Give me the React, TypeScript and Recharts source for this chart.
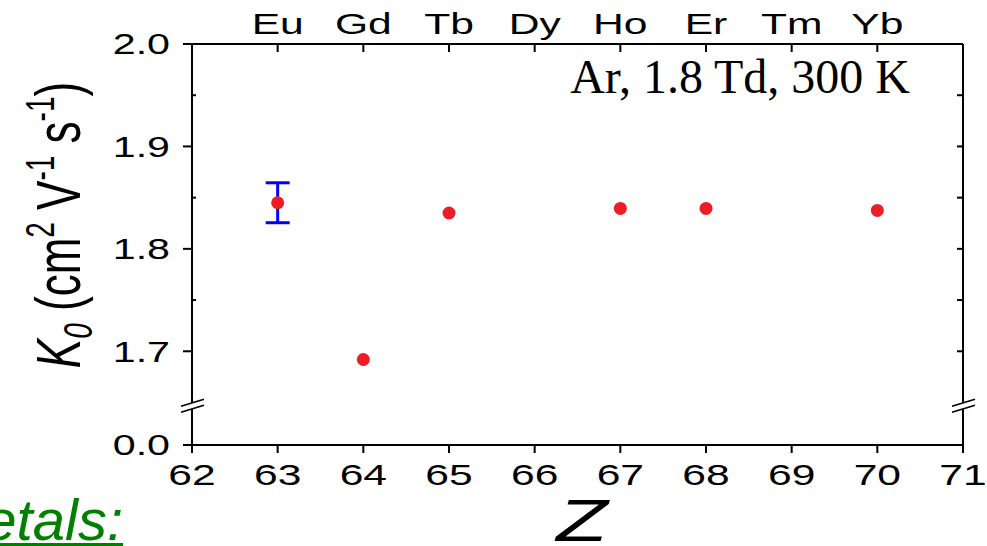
import { ScatterChart, Scatter, XAxis, YAxis, ErrorBar, ReferenceDot, Customized } from "recharts";

// Z values and measured K0 (cm2/V/s)
const euPoint = [{ z: 63, k0: 1.845, err: 0.0195 }];
const otherZ = [64, 65, 67, 68, 70];
const otherK0 = [1.692, 1.835, 1.8395, 1.8395, 1.8375];

const elementZ = [63, 64, 65, 66, 67, 68, 69, 70];
const elementNames = ["Eu", "Gd", "Tb", "Dy", "Ho", "Er", "Tm", "Yb"];
const zTicks = [62, 63, 64, 65, 66, 67, 68, 69, 70, 71];

// broken y axis: the bottom of the axis stands for 0.0
const AXIS_FLOOR = 1.6085;
const BREAK_AT = 1.6474;
const majorK0 = [1.7, 1.8, 1.9, 2.0];
const leftTicks = [AXIS_FLOOR, 1.7, 1.75, 1.8, 1.85, 1.9, 1.95, 2.0];
const rightTicks = [1.7, 1.75, 1.8, 1.85, 1.9, 1.95, 2.0];

const otherPoints = otherZ.map((z, i) => ({ z, k0: otherK0[i] }));

const FONT = "'Liberation Sans', Arial, sans-serif";
const RED = "#ee1c24";
const STRETCH = 1.42;

const isMajor = (v: number) => v === AXIS_FLOOR || majorK0.some((m) => Math.abs(m - v) < 1e-6);

function BottomTick(props: any) {
  const { x, y, payload } = props;
  return (
    <g>
      <line x1={x} y1={y} x2={x} y2={y + 8} stroke="#000" strokeWidth={2} />
      <text transform={`translate(${x},${y + 40}) scale(${STRETCH},1)`} textAnchor="middle" fontSize={30} fontFamily={FONT} fill="#000">
        {payload.value}
      </text>
    </g>
  );
}

function TopTick(props: any) {
  const { x, y, payload } = props;
  const name = elementNames[elementZ.indexOf(payload.value)];
  return (
    <g>
      <line x1={x} y1={y} x2={x} y2={y + 8} stroke="#000" strokeWidth={2} />
      <text transform={`translate(${x},${y - 10}) scale(${STRETCH},1)`} textAnchor="middle" fontSize={30} fontFamily={FONT} fill="#000">
        {name}
      </text>
    </g>
  );
}

function LeftTick(props: any) {
  const { x, y, payload } = props;
  const v = payload.value as number;
  if (!isMajor(v)) {
    return <line x1={x} y1={y} x2={x + 4} y2={y} stroke="#000" strokeWidth={2} />;
  }
  const label = v === AXIS_FLOOR ? "0.0" : v.toFixed(1);
  return (
    <g>
      <line x1={x - 9} y1={y} x2={x} y2={y} stroke="#000" strokeWidth={2} />
      <text transform={`translate(${x - 22},${y}) scale(${STRETCH},1)`} dy="0.36em" textAnchor="end" fontSize={29} fontFamily={FONT} fill="#000">
        {label}
      </text>
    </g>
  );
}

function RightTick(props: any) {
  const { x, y } = props;
  return <line x1={x - 6} y1={y} x2={x} y2={y} stroke="#000" strokeWidth={2} />;
}

function AxisBreak(props: any) {
  const { cx, cy } = props;
  return (
    <g>
      <polygon points={`${cx - 11},${cy + 1} ${cx + 12},${cy - 6} ${cx + 12},${cy} ${cx - 11},${cy + 7}`} fill="#fff" />
      <line x1={cx - 11} y1={cy + 1} x2={cx + 12} y2={cy - 6} stroke="#000" strokeWidth={1.6} />
      <line x1={cx - 11} y1={cy + 7} x2={cx + 12} y2={cy} stroke="#000" strokeWidth={1.6} />
    </g>
  );
}

function Dot(props: any) {
  const { cx, cy } = props;
  return <circle cx={cx} cy={cy} r={6.5} fill={RED} />;
}

function Annotations() {
  return (
    <g>
      <text x={910} y={93} textAnchor="end" fontSize={48} fontFamily="'Liberation Serif', 'Times New Roman', serif" fill="#000">
        Ar, 1.8 Td, 300 K
      </text>
      <text transform={`translate(80,225) scale(1.45,1) rotate(-90)`} textAnchor="middle" fontSize={44} fontFamily={FONT} fill="#000">
        <tspan fontStyle="italic">K</tspan>
        <tspan fontStyle="italic" fontSize={28} dy={8}>0</tspan>
        <tspan dy={-8}> (cm</tspan>
        <tspan fontSize={28} dy={-18}>2</tspan>
        <tspan dy={18}> V</tspan>
        <tspan fontSize={28} dy={-18}>-1</tspan>
        <tspan dy={18}> s</tspan>
        <tspan fontSize={28} dy={-18}>-1</tspan>
        <tspan dy={18}>)</tspan>
      </text>
      <text transform={`translate(582,541) scale(1.4,1)`} textAnchor="middle" fontSize={60} fontStyle="italic" fontFamily={FONT} fill="#000">
        Z
      </text>
      <text x={123} y={540} textAnchor="end" fontSize={58} fontStyle="italic" fontFamily={FONT} fill="#008000" textDecoration="underline">
        Metals:
      </text>
    </g>
  );
}

export default function App() {
  return (
    <div style={{ position: "absolute", left: 0, top: 0, width: 987, height: 546, background: "#fff" }}>
      <ScatterChart width={987} height={546} margin={{ top: 43, right: 23, bottom: 100, left: 191 }}>
        <XAxis
          xAxisId="bottom"
          dataKey="z"
          type="number"
          domain={[62, 71]}
          ticks={zTicks}
          interval={0}
          height={1}
          tickSize={0}
          tickMargin={0}
          tickLine={false}
          tick={<BottomTick />}
          axisLine={{ stroke: "#000", strokeWidth: 2 }}
        />
        <XAxis
          xAxisId="top"
          orientation="top"
          dataKey="z"
          type="number"
          domain={[62, 71]}
          ticks={elementZ}
          interval={0}
          height={1}
          tickSize={0}
          tickMargin={0}
          tickLine={false}
          tick={<TopTick />}
          axisLine={{ stroke: "#000", strokeWidth: 2 }}
        />
        <YAxis
          yAxisId="left"
          dataKey="k0"
          type="number"
          domain={[AXIS_FLOOR, 2.0]}
          ticks={leftTicks}
          interval={0}
          width={1}
          tickSize={0}
          tickMargin={0}
          tickLine={false}
          tick={<LeftTick />}
          axisLine={{ stroke: "#000", strokeWidth: 2 }}
        />
        <YAxis
          yAxisId="right"
          orientation="right"
          dataKey="k0"
          type="number"
          domain={[AXIS_FLOOR, 2.0]}
          ticks={rightTicks}
          interval={0}
          width={1}
          tickSize={0}
          tickMargin={0}
          tickLine={false}
          tick={<RightTick />}
          axisLine={{ stroke: "#000", strokeWidth: 2 }}
        />
        <Scatter xAxisId="bottom" yAxisId="left" data={otherPoints} shape={<Dot />} isAnimationActive={false} />
        {/* same scales as bottom/left; bound to top/right so those axes get their ticks */}
        <Scatter xAxisId="top" yAxisId="right" data={euPoint} shape={<Dot />} isAnimationActive={false}>
          <ErrorBar dataKey="err" direction="y" width={12} stroke="#0000ff" strokeWidth={3} />
        </Scatter>
        <ReferenceDot xAxisId="bottom" yAxisId="left" x={62} y={BREAK_AT} ifOverflow="visible" shape={<AxisBreak />} />
        <ReferenceDot xAxisId="bottom" yAxisId="left" x={71} y={BREAK_AT} ifOverflow="visible" shape={<AxisBreak />} />
        <Customized component={Annotations} />
      </ScatterChart>
    </div>
  );
}
